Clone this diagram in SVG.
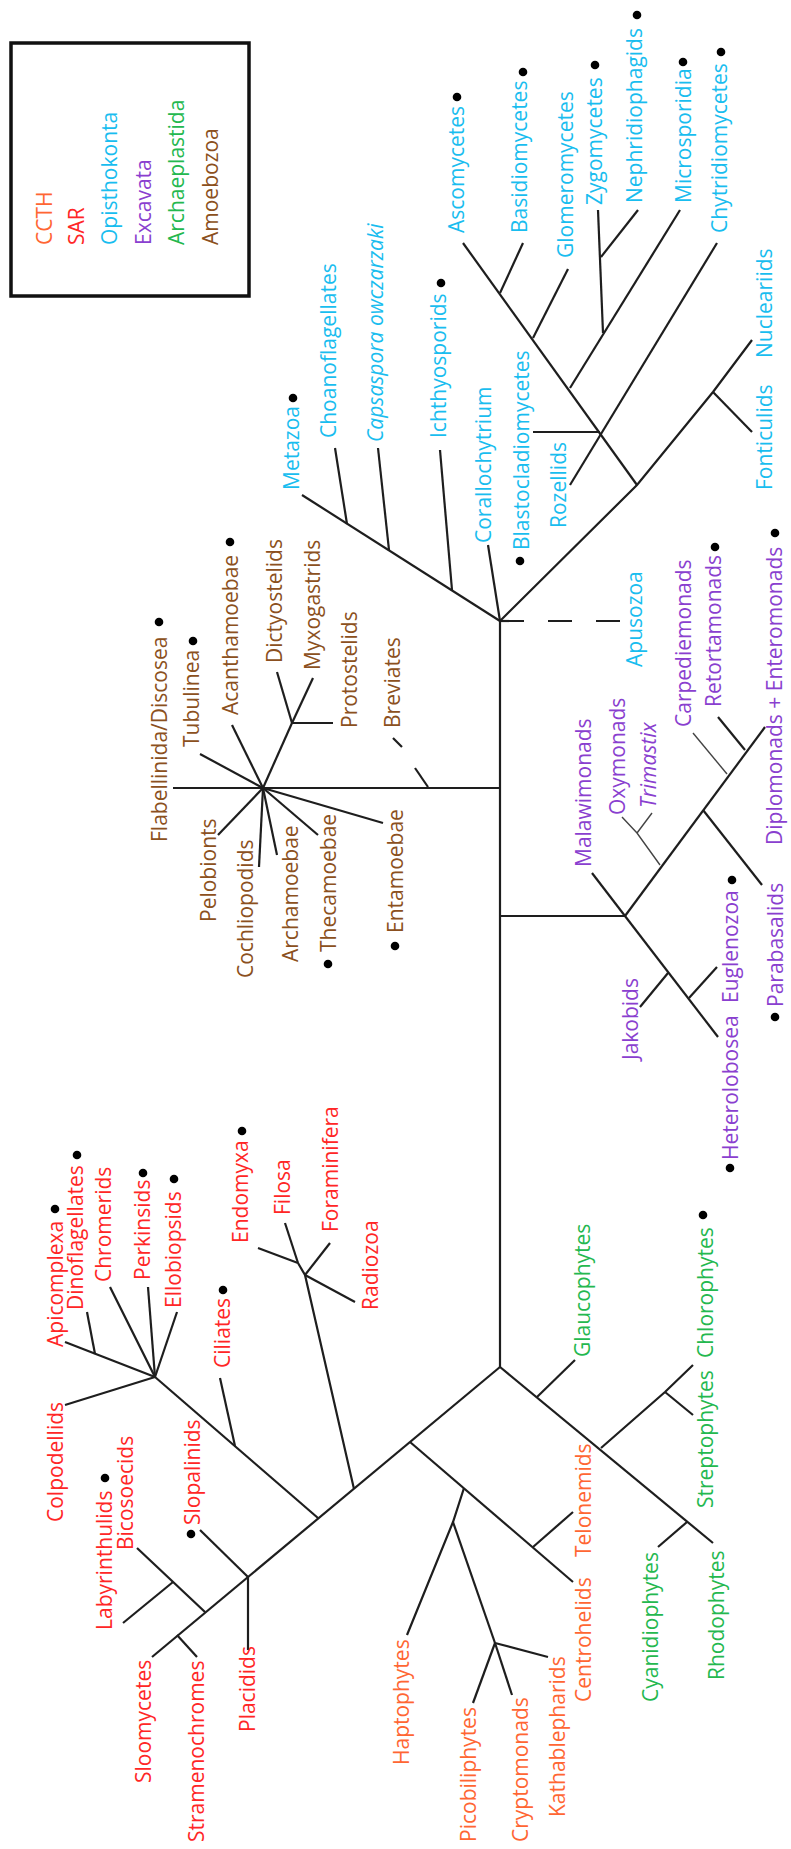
<svg xmlns="http://www.w3.org/2000/svg" width="791" height="1849" viewBox="0 0 791 1849">
<style>
text{font-family:"Open Sans","Liberation Sans",sans-serif;font-size:21px}
.it{font-style:italic}
.cc{fill:#ff6633}.sar{fill:#ff2626}.op{fill:#19bdef}.ex{fill:#8a3fcf}.ar{fill:#24b84f}.am{fill:#8b5020}
.br line,.br polyline{stroke:#1e1e1e;stroke-width:2.2;fill:none;stroke-linecap:butt}
.br .thin{stroke:#444;stroke-width:1.4}
.br .dash{stroke-dasharray:24 24}
.dot{fill:#000}
</style>
<rect width="791" height="1849" fill="#fff"/>
<g id="legend">
<rect x="11" y="43" width="238" height="253" fill="none" stroke="#111" stroke-width="3.5"/>
<text class="cc" transform="translate(52,245) rotate(-90)">CCTH</text>
<text class="sar" transform="translate(84,245) rotate(-90)">SAR</text>
<text class="op" transform="translate(117,245) rotate(-90)">Opisthokonta</text>
<text class="ex" transform="translate(151,245) rotate(-90)">Excavata</text>
<text class="ar" transform="translate(184,245) rotate(-90)">Archaeplastida</text>
<text class="am" transform="translate(218,245) rotate(-90)">Amoebozoa</text>
</g>
<g id="connectors" class="br">
<line x1="500" y1="621" x2="500" y2="1367"/>
<line x1="302" y1="495" x2="500" y2="621"/>
<line x1="335" y1="448" x2="347" y2="524"/>
<line x1="378" y1="448" x2="389" y2="550"/>
<line x1="440" y1="450" x2="452" y2="590"/>
<line x1="488" y1="545" x2="500" y2="621"/>
<line class="dash" x1="500" y1="621" x2="620" y2="621"/>
<polyline points="500,621 637,485 713,392 752,340"/>
<line x1="713" y1="392" x2="752" y2="432"/>
<line x1="463" y1="243" x2="637" y2="485"/>
<line x1="523" y1="243" x2="500" y2="293"/>
<line x1="568" y1="269" x2="533" y2="338"/>
<line x1="680" y1="210" x2="570" y2="388"/>
<line x1="598" y1="210" x2="603" y2="333"/>
<line x1="638" y1="210" x2="601" y2="257"/>
<line x1="717" y1="243" x2="570" y2="485"/>
<line x1="533" y1="432" x2="600" y2="432"/>
<line x1="173" y1="788" x2="500" y2="788"/>
<line x1="200" y1="754" x2="263" y2="788"/>
<line x1="232" y1="725" x2="263" y2="788"/>
<line x1="292" y1="723" x2="263" y2="788"/>
<line x1="277" y1="672" x2="292" y2="723"/>
<line x1="313" y1="678" x2="292" y2="723"/>
<line x1="292" y1="723" x2="333" y2="723"/>
<line x1="218" y1="835" x2="263" y2="788"/>
<line x1="259" y1="867" x2="263" y2="788"/>
<line x1="277" y1="855" x2="263" y2="788"/>
<line x1="318" y1="835" x2="263" y2="788"/>
<line x1="383" y1="823" x2="263" y2="788"/>
<line x1="393" y1="738" x2="402" y2="747"/>
<line x1="415" y1="768" x2="428" y2="787"/>
<line x1="500" y1="916" x2="625" y2="916"/>
<line x1="592" y1="873" x2="625" y2="916"/>
<line x1="625" y1="916" x2="765" y2="727"/>
<polyline class="thin" points="622,817 637,833 660,865"/>
<line class="thin" x1="652" y1="813" x2="637" y2="833"/>
<line class="thin" x1="693" y1="733" x2="727" y2="774"/>
<line x1="718" y1="717" x2="745" y2="750"/>
<line x1="703" y1="810" x2="762" y2="885"/>
<line x1="625" y1="916" x2="718" y2="1037"/>
<line x1="640" y1="1007" x2="668" y2="973"/>
<line x1="717" y1="967" x2="689" y2="998"/>
<line x1="500" y1="1367" x2="152" y2="1657"/>
<line x1="500" y1="1367" x2="713" y2="1543"/>
<line x1="537" y1="1397" x2="575" y2="1360"/>
<polyline points="601,1448 665,1392 693,1365"/>
<line x1="665" y1="1392" x2="693" y2="1415"/>
<line x1="687" y1="1522" x2="658" y2="1547"/>
<line x1="410" y1="1442" x2="573" y2="1582"/>
<line x1="533" y1="1547" x2="573" y2="1512"/>
<polyline points="464,1488 453,1522 407,1635"/>
<line x1="453" y1="1522" x2="495" y2="1643"/>
<line x1="495" y1="1643" x2="473" y2="1703"/>
<line x1="495" y1="1643" x2="512" y2="1695"/>
<line x1="495" y1="1643" x2="548" y2="1657"/>
<line x1="155" y1="1377" x2="318" y2="1518"/>
<line x1="220" y1="1378" x2="235" y2="1446"/>
<line x1="65" y1="1405" x2="155" y2="1377"/>
<line x1="65" y1="1342" x2="155" y2="1377"/>
<line x1="87" y1="1312" x2="95" y2="1354"/>
<line x1="110" y1="1287" x2="155" y2="1377"/>
<line x1="148" y1="1287" x2="155" y2="1377"/>
<line x1="177" y1="1312" x2="155" y2="1377"/>
<polyline points="298,1263 305,1275 354,1489"/>
<line x1="258" y1="1248" x2="298" y2="1263"/>
<line x1="285" y1="1223" x2="298" y2="1263"/>
<line x1="305" y1="1275" x2="330" y2="1243"/>
<line x1="305" y1="1275" x2="355" y2="1302"/>
<line x1="200" y1="1530" x2="248" y2="1577"/>
<line x1="248" y1="1577" x2="248" y2="1650"/>
<line x1="137" y1="1548" x2="205" y2="1612"/>
<line x1="173" y1="1582" x2="123" y2="1623"/>
<line x1="177" y1="1635" x2="197" y2="1657"/>
</g>
<g id="Metazoa"><text class="op" transform="translate(299,490) rotate(-90)">Metazoa</text><circle class="dot" cx="293" cy="398" r="4.3"/></g>
<g id="Choanoflagellates"><text class="op" transform="translate(336,438) rotate(-90)">Choanoflagellates</text></g>
<g id="Capsaspora"><text class="op it" transform="translate(383,442) rotate(-90)">Capsaspora owczarzaki</text></g>
<g id="Ichthyosporids"><text class="op" transform="translate(446,438) rotate(-90)">Ichthyosporids</text><circle class="dot" cx="441" cy="283" r="4.3"/></g>
<g id="Corallochytrium"><text class="op" transform="translate(491,543) rotate(-90)">Corallochytrium</text></g>
<g id="Blastocladiomycetes"><text class="op" transform="translate(529,550) rotate(-90)">Blastocladiomycetes</text><circle class="dot" cx="520" cy="561" r="4.3"/></g>
<g id="Rozellids"><text class="op" transform="translate(566,528) rotate(-90)">Rozellids</text></g>
<g id="Ascomycetes"><text class="op" transform="translate(464,233) rotate(-90)">Ascomycetes</text><circle class="dot" cx="457" cy="97" r="4.3"/></g>
<g id="Basidiomycetes"><text class="op" transform="translate(527,233) rotate(-90)">Basidiomycetes</text><circle class="dot" cx="523" cy="72" r="4.3"/></g>
<g id="Glomeromycetes"><text class="op" transform="translate(573,258) rotate(-90)">Glomeromycetes</text></g>
<g id="Zygomycetes"><text class="op" transform="translate(602,205) rotate(-90)">Zygomycetes</text><circle class="dot" cx="595" cy="65" r="4.3"/></g>
<g id="Nephridiophagids"><text class="op" transform="translate(642,203) rotate(-90)">Nephridiophagids</text><circle class="dot" cx="637" cy="15" r="4.3"/></g>
<g id="Microsporidia"><text class="op" transform="translate(691,203) rotate(-90)">Microsporidia</text><circle class="dot" cx="683" cy="62" r="4.3"/></g>
<g id="Chytridiomycetes"><text class="op" transform="translate(727,233) rotate(-90)">Chytridiomycetes</text><circle class="dot" cx="721" cy="52" r="4.3"/></g>
<g id="Nucleariids"><text class="op" transform="translate(772,358) rotate(-90)">Nucleariids</text></g>
<g id="Fonticulids"><text class="op" transform="translate(772,490) rotate(-90)">Fonticulids</text></g>
<g id="Apusozoa"><text class="op" transform="translate(642,667) rotate(-90)">Apusozoa</text></g>
<g id="Flabellinida"><text class="am" transform="translate(167,842) rotate(-90)">Flabellinida/Discosea</text><circle class="dot" cx="159" cy="622" r="4.3"/></g>
<g id="Tubulinea"><text class="am" transform="translate(199,747) rotate(-90)">Tubulinea</text><circle class="dot" cx="193" cy="641" r="4.3"/></g>
<g id="Acanthamoebae"><text class="am" transform="translate(238,715) rotate(-90)">Acanthamoebae</text><circle class="dot" cx="230" cy="542" r="4.3"/></g>
<g id="Dictyostelids"><text class="am" transform="translate(282,663) rotate(-90)">Dictyostelids</text></g>
<g id="Myxogastrids"><text class="am" transform="translate(320,670) rotate(-90)">Myxogastrids</text></g>
<g id="Protostelids"><text class="am" transform="translate(357,728) rotate(-90)">Protostelids</text></g>
<g id="Breviates"><text class="am" transform="translate(400,728) rotate(-90)">Breviates</text></g>
<g id="Pelobionts"><text class="am" transform="translate(216,922) rotate(-90)">Pelobionts</text></g>
<g id="Cochliopodids"><text class="am" transform="translate(253,978) rotate(-90)">Cochliopodids</text></g>
<g id="Archamoebae"><text class="am" transform="translate(298,962) rotate(-90)">Archamoebae</text></g>
<g id="Thecamoebae"><text class="am" transform="translate(336,952) rotate(-90)">Thecamoebae</text><circle class="dot" cx="328" cy="964" r="4.3"/></g>
<g id="Entamoebae"><text class="am" transform="translate(403,933) rotate(-90)">Entamoebae</text><circle class="dot" cx="395" cy="946" r="4.3"/></g>
<g id="Malawimonads"><text class="ex" transform="translate(591,867) rotate(-90)">Malawimonads</text></g>
<g id="Oxymonads"><text class="ex" transform="translate(625,815) rotate(-90)">Oxymonads</text></g>
<g id="Trimastix"><text class="ex it" transform="translate(656,808) rotate(-90)">Trimastix</text></g>
<g id="Carpediemonads"><text class="ex" transform="translate(691,727) rotate(-90)">Carpediemonads</text></g>
<g id="Retortamonads"><text class="ex" transform="translate(721,707) rotate(-90)">Retortamonads</text><circle class="dot" cx="715" cy="547" r="4.3"/></g>
<g id="Diplomonads"><text class="ex" transform="translate(782,845) rotate(-90)">Diplomonads + Enteromonads</text><circle class="dot" cx="775" cy="533" r="4.3"/></g>
<g id="Parabasalids"><text class="ex" transform="translate(783,1007) rotate(-90)">Parabasalids</text><circle class="dot" cx="775" cy="1017" r="4.3"/></g>
<g id="Euglenozoa"><text class="ex" transform="translate(738,1003) rotate(-90)">Euglenozoa</text><circle class="dot" cx="732" cy="880" r="4.3"/></g>
<g id="Jakobids"><text class="ex" transform="translate(638,1060) rotate(-90)">Jakobids</text></g>
<g id="Heterolobosea"><text class="ex" transform="translate(738,1160) rotate(-90)">Heterolobosea</text><circle class="dot" cx="730" cy="1168" r="4.3"/></g>
<g id="Glaucophytes"><text class="ar" transform="translate(590,1357) rotate(-90)">Glaucophytes</text></g>
<g id="Chlorophytes"><text class="ar" transform="translate(713,1358) rotate(-90)">Chlorophytes</text><circle class="dot" cx="703" cy="1215" r="4.3"/></g>
<g id="Streptophytes"><text class="ar" transform="translate(713,1508) rotate(-90)">Streptophytes</text></g>
<g id="Cyanidiophytes"><text class="ar" transform="translate(658,1702) rotate(-90)">Cyanidiophytes</text></g>
<g id="Rhodophytes"><text class="ar" transform="translate(724,1680) rotate(-90)">Rhodophytes</text></g>
<g id="Telonemids"><text class="cc" transform="translate(591,1557) rotate(-90)">Telonemids</text></g>
<g id="Centrohelids"><text class="cc" transform="translate(591,1702) rotate(-90)">Centrohelids</text></g>
<g id="Haptophytes"><text class="cc" transform="translate(409,1765) rotate(-90)">Haptophytes</text></g>
<g id="Picobiliphytes"><text class="cc" transform="translate(476,1842) rotate(-90)">Picobiliphytes</text></g>
<g id="Cryptomonads"><text class="cc" transform="translate(528,1842) rotate(-90)">Cryptomonads</text></g>
<g id="Kathablepharids"><text class="cc" transform="translate(565,1817) rotate(-90)">Kathablepharids</text></g>
<g id="Apicomplexa"><text class="sar" transform="translate(63,1347) rotate(-90)">Apicomplexa</text><circle class="dot" cx="55" cy="1209" r="4.3"/></g>
<g id="Dinoflagellates"><text class="sar" transform="translate(83,1310) rotate(-90)">Dinoflagellates</text><circle class="dot" cx="77" cy="1155" r="4.3"/></g>
<g id="Chromerids"><text class="sar" transform="translate(111,1282) rotate(-90)">Chromerids</text></g>
<g id="Perkinsids"><text class="sar" transform="translate(150,1280) rotate(-90)">Perkinsids</text><circle class="dot" cx="143" cy="1173" r="4.3"/></g>
<g id="Ellobiopsids"><text class="sar" transform="translate(181,1308) rotate(-90)">Ellobiopsids</text><circle class="dot" cx="174" cy="1179" r="4.3"/></g>
<g id="Ciliates"><text class="sar" transform="translate(230,1368) rotate(-90)">Ciliates</text><circle class="dot" cx="223" cy="1290" r="4.3"/></g>
<g id="Endomyxa"><text class="sar" transform="translate(248,1243) rotate(-90)">Endomyxa</text><circle class="dot" cx="242" cy="1131" r="4.3"/></g>
<g id="Filosa"><text class="sar" transform="translate(290,1215) rotate(-90)">Filosa</text></g>
<g id="Foraminifera"><text class="sar" transform="translate(338,1232) rotate(-90)">Foraminifera</text></g>
<g id="Radiozoa"><text class="sar" transform="translate(378,1310) rotate(-90)">Radiozoa</text></g>
<g id="Colpodellids"><text class="sar" transform="translate(63,1522) rotate(-90)">Colpodellids</text></g>
<g id="Bicosoecids"><text class="sar" transform="translate(133,1550) rotate(-90)">Bicosoecids</text></g>
<g id="Labyrinthulids"><text class="sar" transform="translate(112,1630) rotate(-90)">Labyrinthulids</text><circle class="dot" cx="105" cy="1478" r="4.3"/></g>
<g id="Slopalinids"><text class="sar" transform="translate(200,1525) rotate(-90)">Slopalinids</text><circle class="dot" cx="191" cy="1534" r="4.3"/></g>
<g id="Placidids"><text class="sar" transform="translate(255,1732) rotate(-90)">Placidids</text></g>
<g id="Sloomycetes"><text class="sar" transform="translate(151,1783) rotate(-90)">Sloomycetes</text></g>
<g id="Stramenochromes"><text class="sar" transform="translate(204,1842) rotate(-90)">Stramenochromes</text></g>
</svg>
